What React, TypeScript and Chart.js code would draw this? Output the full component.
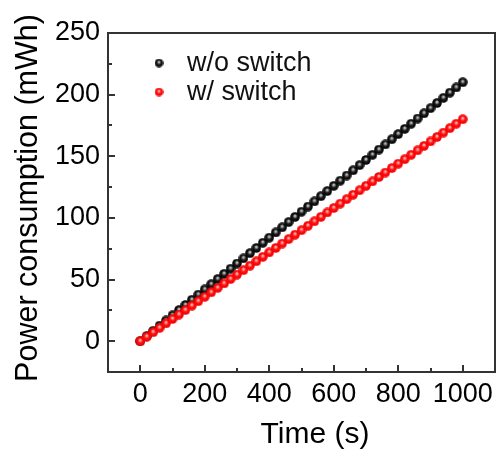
import React, { useEffect, useRef } from 'react';
import { Chart, registerables } from 'chart.js';

Chart.register(...registerables);

const timeS = [0, 20, 40, 60, 80, 100, 120, 140, 160, 180, 200, 220, 240, 260, 280, 300, 320, 340, 360, 380, 400, 420, 440, 460, 480, 500, 520, 540, 560, 580, 600, 620, 640, 660, 680, 700, 720, 740, 760, 780, 800, 820, 840, 860, 880, 900, 920, 940, 960, 980, 1000];
const withoutSwitch = [0, 4.2, 8.4, 12.6, 16.8, 21, 25.2, 29.4, 33.6, 37.8, 42, 46.2, 50.4, 54.6, 58.8, 63, 67.2, 71.4, 75.6, 79.8, 84, 88.2, 92.4, 96.6, 100.8, 105, 109.2, 113.4, 117.6, 121.8, 126, 130.2, 134.4, 138.6, 142.8, 147, 151.2, 155.4, 159.6, 163.8, 168, 172.2, 176.4, 180.6, 184.8, 189, 193.2, 197.4, 201.6, 205.8, 210];
const withSwitch = [0, 3.6, 7.2, 10.8, 14.4, 18, 21.6, 25.2, 28.8, 32.4, 36, 39.6, 43.2, 46.8, 50.4, 54, 57.6, 61.2, 64.8, 68.4, 72, 75.6, 79.2, 82.8, 86.4, 90, 93.6, 97.2, 100.8, 104.4, 108, 111.6, 115.2, 118.8, 122.4, 126, 129.6, 133.2, 136.8, 140.4, 144, 147.6, 151.2, 154.8, 158.4, 162, 165.6, 169.2, 172.8, 176.4, 180];
const seriesLabels = ['w/o switch', 'w/ switch'];
const xTickValues = [0, 200, 400, 600, 800, 1000];
const xMinorValues = [100, 300, 500, 700, 900];
const yTickValues = [0, 50, 100, 150, 200, 250];
const yMinorValues = [25, 75, 125, 175, 225];
const xTitle = 'Time (s)';
const yTitle = 'Power consumption (mWh)';

const FONT = "Arial, 'Liberation Sans', sans-serif";

function sphere(kind: 'black' | 'red', size: number): HTMLCanvasElement {
  const c = document.createElement('canvas');
  c.width = size;
  c.height = size;
  const ctx = c.getContext('2d')!;
  const cx = size / 2;
  const cy = size / 2;
  const r = size / 2 - 0.2;
  const g = ctx.createRadialGradient(cx, cy - r * 0.25, 0, cx, cy, r);
  if (kind === 'black') {
    g.addColorStop(0, '#f4f4f4');
    g.addColorStop(0.2, '#9a9a9a');
    g.addColorStop(0.5, '#1a1a1a');
    g.addColorStop(1, '#000000');
  } else {
    g.addColorStop(0, '#fff2f2');
    g.addColorStop(0.2, '#ff8a8a');
    g.addColorStop(0.5, '#ff1010');
    g.addColorStop(1, '#f00000');
  }
  ctx.fillStyle = g;
  ctx.beginPath();
  ctx.arc(cx, cy, r, 0, Math.PI * 2);
  ctx.fill();
  return c;
}

const frameColor = '#333333';

export default function App() {
  const ref = useRef<HTMLCanvasElement | null>(null);

  useEffect(() => {
    const canvas = ref.current!;
    const blackImg = sphere('black', 10);
    const redImg = sphere('red', 10);
    const blackLegend = sphere('black', 9);
    const redLegend = sphere('red', 9);

    const framePlugin = {
      id: 'framePlugin',
      afterDatasetsDraw(chart: any) {
        const ctx = chart.ctx as CanvasRenderingContext2D;
        const area = chart.chartArea;
        const left = Math.round(area.left);
        const bottom = Math.round(area.bottom);
        const xs = chart.scales.x;
        const ys = chart.scales.y;
        ctx.save();
        ctx.fillStyle = frameColor;
        xTickValues.forEach((v) => {
          const px = Math.round(xs.getPixelForValue(v));
          ctx.fillRect(px - 1, bottom - 7, 2, 7);
        });
        xMinorValues.forEach((v) => {
          const px = Math.round(xs.getPixelForValue(v));
          ctx.fillRect(px - 1, bottom - 4, 2, 4);
        });
        yTickValues.forEach((v) => {
          const py = Math.round(ys.getPixelForValue(v));
          ctx.fillRect(left, py - 1, 7, 2);
        });
        yMinorValues.forEach((v) => {
          const py = Math.round(ys.getPixelForValue(v));
          ctx.fillRect(left, py - 1, 4, 2);
        });

        // axis titles
        ctx.fillStyle = '#000';
        ctx.font = `30px ${FONT}`;
        ctx.textAlign = 'center';
        ctx.textBaseline = 'alphabetic';
        ctx.fillText(xTitle, 315, 443);

        ctx.save();
        ctx.translate(37, 198);
        ctx.rotate(-Math.PI / 2);
        ctx.font = `30.5px ${FONT}`;
        ctx.fillText(yTitle, 0, 0);
        ctx.restore();

        // legend
        const imgs = [blackLegend, redLegend];
        const rows = [63, 92];
        ctx.font = `27px ${FONT}`;
        ctx.textAlign = 'left';
        ctx.textBaseline = 'middle';
        seriesLabels.forEach((label, i) => {
          ctx.drawImage(imgs[i], 159 - 4.5, rows[i] - 4.5);
          ctx.fillStyle = '#111';
          ctx.fillText(label, 187, rows[i] + 1);
        });
        ctx.restore();
      },
    };

    const hiddenTicks = { display: false };
    const chart = new Chart(canvas, {
      type: 'scatter',
      data: {
        datasets: [
          {
            label: seriesLabels[0],
            data: timeS.map((t, i) => ({ x: t, y: withoutSwitch[i] })),
            pointStyle: blackImg as any,
            pointRadius: 5,
            order: 1,
          },
          {
            label: seriesLabels[1],
            data: timeS.map((t, i) => ({ x: t, y: withSwitch[i] })),
            pointStyle: redImg as any,
            pointRadius: 5,
            order: 0,
          },
        ],
      },
      options: {
        responsive: false,
        animation: false,
        layout: { padding: { top: 32, right: 5, left: 0, bottom: 0 } },
        plugins: {
          legend: { display: false },
          tooltip: { enabled: false },
        },
        scales: {
          x: {
            type: 'linear',
            position: 'bottom',
            min: -100,
            max: 1100,
            afterBuildTicks: (s: any) => {
              s.ticks = xTickValues.map((v) => ({ value: v }));
            },
            afterFit: (s: any) => {
              s.height = 78;
            },
            grid: { display: false, drawTicks: false },
            border: { display: true, color: frameColor, width: 2 },
            ticks: {
              color: '#000',
              font: { family: FONT, size: 27 },
              padding: 6,
              maxRotation: 0,
              autoSkip: false,
              callback: (v: any) => String(v),
            },
          },
          x2: {
            type: 'linear',
            position: 'top',
            min: -100,
            max: 1100,
            afterFit: (s: any) => {
              s.height = 1;
            },
            grid: { display: false, drawTicks: false },
            border: { display: true, color: frameColor, width: 2 },
            ticks: hiddenTicks,
          },
          y: {
            type: 'linear',
            position: 'left',
            min: -25,
            max: 250,
            afterBuildTicks: (s: any) => {
              s.ticks = yTickValues.map((v) => ({ value: v }));
            },
            afterFit: (s: any) => {
              s.width = 108;
            },
            grid: { display: false, drawTicks: false },
            border: { display: true, color: frameColor, width: 2 },
            ticks: {
              color: '#000',
              font: { family: FONT, size: 27 },
              padding: 8,
              autoSkip: false,
              callback: (v: any) => String(v),
            },
          },
          y2: {
            type: 'linear',
            position: 'right',
            min: -25,
            max: 250,
            afterFit: (s: any) => {
              s.width = 1;
            },
            grid: { display: false, drawTicks: false },
            border: { display: true, color: frameColor, width: 2 },
            ticks: hiddenTicks,
          },
        },
      },
      plugins: [framePlugin],
    });

    return () => chart.destroy();
  }, []);

  return (
    <div style={{ position: 'absolute', left: 0, top: 0, width: 501, height: 450, background: '#fff' }}>
      <canvas ref={ref} width={501} height={450} style={{ width: 501, height: 450, display: 'block' }} />
    </div>
  );
}
